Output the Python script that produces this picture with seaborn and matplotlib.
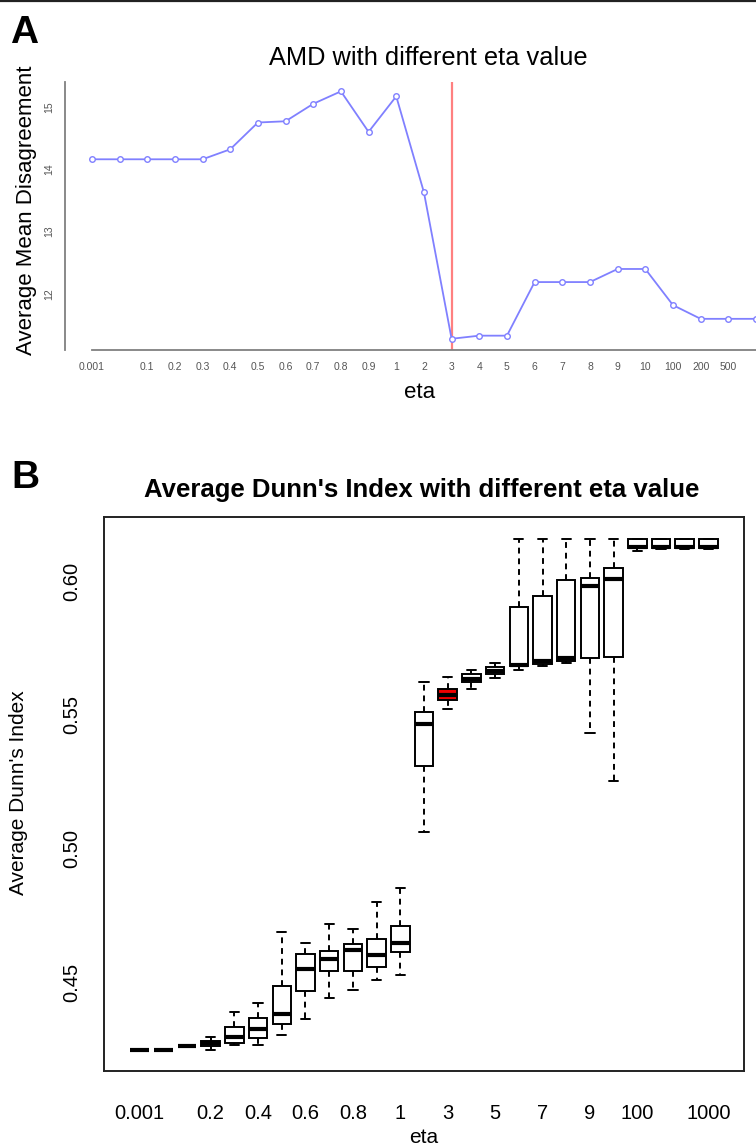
import numpy as np
import pandas as pd
import seaborn as sns
import matplotlib
matplotlib.use('Agg')
import matplotlib.pyplot as plt
from matplotlib.lines import Line2D

# categories shared by both panels
eta = ['0.001', '0.01', '0.1', '0.2', '0.3', '0.4', '0.5', '0.6', '0.7', '0.8', '0.9',
       '1', '2', '3', '4', '5', '6', '7', '8', '9', '10', '100', '200', '500', '1000']

# panel A: average mean disagreement (last point lies past the cropped edge)
amd_labels = ['0.001', '', '0.1', '0.2', '0.3', '0.4', '0.5', '0.6', '0.7', '0.8', '0.9',
              '1', '2', '3', '4', '5', '6', '7', '8', '9', '10', '100', '200', '500', '']
amd = [14.16, 14.16, 14.16, 14.16, 14.16, 14.32, 14.75, 14.77, 15.05, 15.25, 14.60,
       15.17, 13.63, 11.28, 11.33, 11.33, 12.19, 12.19, 12.19, 12.40, 12.40, 11.82,
       11.60, 11.60, 11.60]
best_eta = '3'

# panel B: average Dunn's index, five-number summaries per eta
dunn_labels = ['0.001', '', '', '0.2', '', '0.4', '', '0.6', '', '0.8', '', '1', '', '3',
               '', '5', '', '7', '', '9', '', '100', '', '', '1000']
dunn_lo = [0.4245, 0.4245, 0.4261, 0.4245, 0.4265, 0.4265, 0.4301, 0.4360, 0.4441, 0.4470,
           0.4507, 0.4525, 0.5063, 0.5522, 0.5596, 0.5637, 0.5669, 0.5681, 0.5694, 0.5431,
           0.5252, 0.6114, 0.6120, 0.6120, 0.6120]
dunn_q1 = [0.4245, 0.4245, 0.4261, 0.4261, 0.4270, 0.4291, 0.4341, 0.4466, 0.4541, 0.4541,
           0.4555, 0.4611, 0.5310, 0.5556, 0.5621, 0.5652, 0.5681, 0.5691, 0.5703, 0.5712,
           0.5716, 0.6125, 0.6125, 0.6125, 0.6125]
dunn_med = [0.4245, 0.4245, 0.4261, 0.4270, 0.4293, 0.4323, 0.4380, 0.4550, 0.4585, 0.4620,
            0.4601, 0.4647, 0.5466, 0.5575, 0.5634, 0.5662, 0.5687, 0.5700, 0.5712, 0.5980,
            0.6008, 0.6128, 0.6128, 0.6128, 0.6128]
dunn_q3 = [0.4245, 0.4245, 0.4261, 0.4280, 0.4330, 0.4366, 0.4485, 0.4605, 0.4615, 0.4641,
           0.4660, 0.4711, 0.5510, 0.5596, 0.5651, 0.5679, 0.5903, 0.5943, 0.6003, 0.6013,
           0.6048, 0.6158, 0.6158, 0.6158, 0.6158]
dunn_hi = [0.4245, 0.4245, 0.4261, 0.4295, 0.4389, 0.4420, 0.4688, 0.4645, 0.4716, 0.4699,
           0.4801, 0.4851, 0.5622, 0.5642, 0.5667, 0.5694, 0.6158, 0.6158, 0.6158, 0.6158,
           0.6158, 0.6158, 0.6158, 0.6158, 0.6158]

sns.set_style('white')
plt.rcParams['font.family'] = ['Liberation Sans', 'DejaVu Sans']
plt.rcParams['text.color'] = 'black'

W, H = 756, 1146
fig = plt.figure(figsize=(W / 100, H / 100), dpi=100)
fig.add_artist(Line2D([0, 1], [1 - 1 / H, 1 - 1 / H], color='#222222', lw=1.6))

# ---------- panel A ----------
df_a = pd.DataFrame({'eta': eta, 'amd': amd})
ax_a = fig.add_axes([65 / W, 1 - 350 / H, 691 / W, 268 / H])
sns.lineplot(data=df_a, x='eta', y='amd', sort=False, color='#8080ff', lw=1.3,
             marker='o', markersize=4, markerfacecolor='white', markeredgecolor='#8080ff',
             markeredgewidth=1, ax=ax_a)
ax_a.axvline(eta.index(best_eta), color='#ff8080', lw=1.6, zorder=1)
ax_a.set_xlim(-0.97, 23.8)
ax_a.set_ylim(11.10, 15.40)
ax_a.set_xticks(range(len(eta)))
ax_a.set_xticklabels(amd_labels)
ax_a.set_yticks([12, 13, 14, 15])
ax_a.set_yticklabels(['12', '13', '14', '15'], rotation=90, va='center')
ax_a.tick_params(axis='both', length=4, width=1, color='#707070', labelsize=7.5,
                 labelcolor='#555555', direction='out')
ax_a.tick_params(axis='x', pad=5)
ax_a.tick_params(axis='y', pad=4)
for s in ['top', 'right']:
    ax_a.spines[s].set_visible(False)
for s in ['left', 'bottom']:
    ax_a.spines[s].set_color('#808080')
    ax_a.spines[s].set_linewidth(1.3)
ax_a.spines['bottom'].set_bounds(0, 24)
ax_a.set_xlabel('')
ax_a.set_ylabel('')

fig.text(428 / W, 1 - 65 / H, 'AMD with different eta value', fontsize=18.3,
         ha='center', va='baseline')
fig.text(27 / W, 1 - 210 / H, 'Average Mean Disagreement', fontsize=16,
         rotation=90, ha='center', va='center')
fig.text(420 / W, 1 - 398 / H, 'eta', fontsize=16, ha='center', va='baseline')
fig.text(10 / W, 1 - 43 / H, 'A', fontsize=28, fontweight='bold', ha='left', va='baseline')

# ---------- panel B ----------
rows = []
for i, e in enumerate(eta):
    for v in (dunn_lo[i], dunn_q1[i], dunn_med[i], dunn_q3[i], dunn_hi[i]):
        rows.append((e, v))
df_b = pd.DataFrame(rows, columns=['eta', 'dunn'])
box_colors = {e: ('#ee0000' if e == best_eta else 'white') for e in eta}

ax_b = fig.add_axes([104 / W, 1 - 1071 / H, 640 / W, 554 / H])
sns.boxplot(data=df_b, x='eta', y='dunn', hue='eta', order=eta, hue_order=eta,
            palette=box_colors, legend=False, saturation=1, width=0.78, whis=(0, 100),
            linecolor='black', linewidth=1.4, ax=ax_b,
            whiskerprops=dict(linestyle=(0, (3, 2.5))),
            medianprops=dict(linewidth=3))
ax_b.set_xlim(-1.5, 25.5)
ax_b.set_ylim(0.4167, 0.624)
ax_b.set_xticks(range(len(eta)))
ax_b.set_xticklabels(dunn_labels)
ax_b.set_yticks([0.45, 0.50, 0.55, 0.60])
ax_b.set_yticklabels(['0.45', '0.50', '0.55', '0.60'], rotation=90, va='center')
ax_b.tick_params(axis='both', length=8.5, width=1.3, color='#222222', labelsize=14.5,
                 labelcolor='black', direction='out')
ax_b.tick_params(axis='x', pad=15)
ax_b.tick_params(axis='y', pad=8)
for s in ax_b.spines.values():
    s.set_visible(True)
    s.set_color('#222222')
    s.set_linewidth(1.4)
ax_b.set_xlabel('')
ax_b.set_ylabel('')

fig.text(422 / W, 1 - 497 / H, "Average Dunn's Index with different eta value",
         fontsize=18.5, fontweight='bold', ha='center', va='baseline')
fig.text(19 / W, 1 - 793 / H, "Average Dunn's Index", fontsize=15,
         rotation=90, ha='center', va='center')
fig.text(424 / W, 3 / H, 'eta', fontsize=15, ha='center', va='baseline')
fig.text(11 / W, 1 - 488 / H, 'B', fontsize=28, fontweight='bold', ha='left', va='baseline')

fig.savefig('out.png', dpi=100)
